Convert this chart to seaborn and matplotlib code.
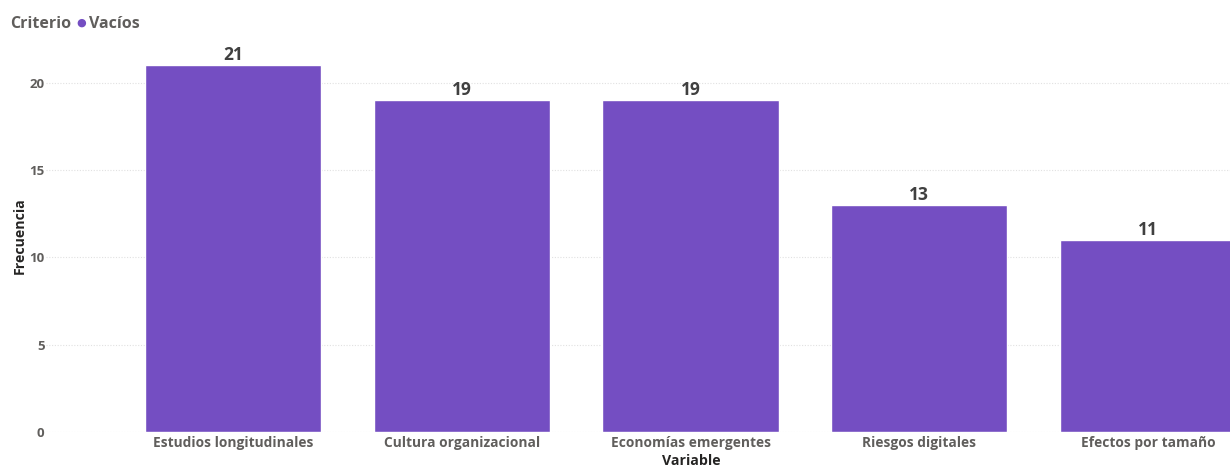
import matplotlib
matplotlib.use("Agg")
import matplotlib.pyplot as plt
import pandas as pd
import seaborn as sns

# data
variables = ["Estudios longitudinales", "Cultura organizacional", "Economías emergentes",
             "Riesgos digitales", "Efectos por tamaño"]
frecuencia = [21, 19, 19, 13, 11]
y_ticks = [0, 5, 10, 15, 20]
legend_title = "Criterio"
legend_item = "Vacíos"

BAR_COLOR = "#744EC2"
TICK_COLOR = "#605E5C"
TITLE_COLOR = "#252423"

sns.set_style("white")
plt.rcParams["font.family"] = ["Open Sans", "DejaVu Sans"]

df = pd.DataFrame({"Variable": variables, "Frecuencia": frecuencia})

fig = plt.figure(figsize=(12.3, 4.68), dpi=100)
ax = fig.add_axes([0.0374, 0.0769, 0.9626, 0.8376])

sns.barplot(data=df, x="Variable", y="Frecuencia", color=BAR_COLOR, width=0.77,
            saturation=1, ax=ax, zorder=3)

for c in ax.containers:
    ax.bar_label(c, labels=[str(v) for v in frecuencia], padding=1, fontsize=12.5,
                 fontweight="bold", color="#404040")

ax.set_xlim(-0.817, 4.358)
ax.set_ylim(0, 22.46)
ax.set_yticks(y_ticks)
ax.yaxis.grid(True, color="#E1E1E1", linestyle=(0, (1, 1.5)), linewidth=0.8, zorder=0)
ax.tick_params(axis="both", length=0, labelcolor=TICK_COLOR)
ax.tick_params(axis="x", labelsize=9.9, pad=3)
ax.tick_params(axis="y", labelsize=9.5, pad=1)
for lab in ax.get_xticklabels() + ax.get_yticklabels():
    lab.set_fontweight("bold")
sns.despine(ax=ax, left=True, bottom=True)

ax.set_xlabel("Variable", fontsize=10.2, fontweight="bold", color=TITLE_COLOR)
ax.set_ylabel("Frecuencia", fontsize=10.2, fontweight="bold", color=TITLE_COLOR)
ax.xaxis.set_label_coords((691 - 46) / 1184, -0.055)
ax.yaxis.set_label_coords(-0.016, 0.5)

# legend as in the report header
fig.text(10 / 1230, 1 - 24 / 468, legend_title, fontsize=11.5, fontweight="bold",
         color=TICK_COLOR, va="center")
fig.text(76 / 1230, 1 - 23 / 468, "●", fontsize=8, color=BAR_COLOR, va="center")
fig.text(89 / 1230, 1 - 24 / 468, legend_item, fontsize=11.5, fontweight="bold",
         color=TICK_COLOR, va="center")

fig.savefig("out.png", dpi=100)
